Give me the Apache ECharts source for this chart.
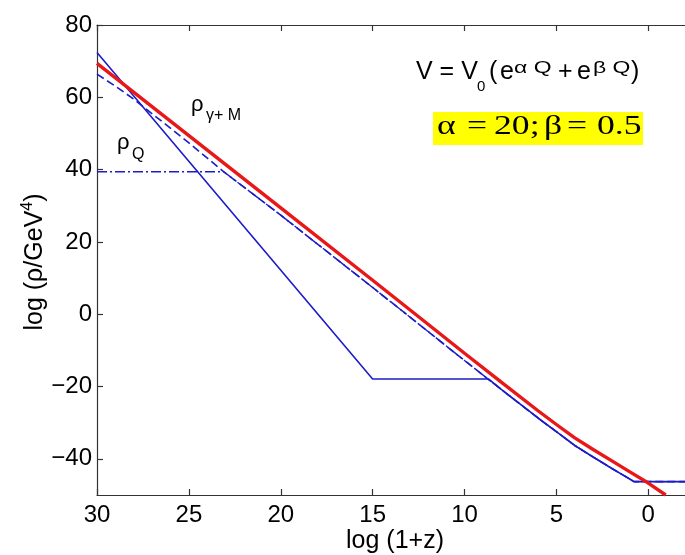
<!DOCTYPE html>
<html>
<head>
<meta charset="utf-8">
<script src="https://cdn.jsdelivr.net/npm/echarts@6/dist/echarts.min.js"></script>
<style>
  html, body { margin: 0; padding: 0; background: #ffffff; }
  #chart { width: 685px; height: 555px; background: #ffffff; }
</style>
</head>
<body>
<div id="chart"></div>
<script>
// x: log(1+z), y: log(rho / GeV^4)
const xTicks = [0, 5, 10, 15, 20, 25, 30];
const yTicks = [-40, -20, 0, 20, 40, 60, 80];

// radiation + matter density
const radMatX = [30, 25, 20, 15, 12, 10, 8, 6, 5, 4, 3, 2, 1, 0, -0.95];
const radMatY = [69.4, 49.4, 29.4, 9.4, -2.7, -10.8, -18.8, -26.7, -30.5, -34.2, -37.4, -40.5, -43.6, -46.7, -50];

// scalar field on the attractor (tracking) solution
const trackX = [28, 25, 23.1, 20, 15, 12, 10, 8.7, 8, 6, 5, 4, 3, 2, 1, 0.78, -2];
const trackY = [59.5, 47.4, 39.4, 27.4, 7.4, -4.7, -12.8, -18.0, -20.8, -28.7, -32.5, -36.3, -39.5, -42.6, -45.6, -46.3, -46.3];

// kinetic-dominated start, freezes, then joins the attractor
const kinX = [30, 15, 8.7];
const kinY = [72.4, -17.9, -17.9];

// start just below the attractor
const nearX = [30, 29];
const nearY = [66.4, 63.1];

// start frozen at a low value
const frozenX = [30];
const frozenY = [39.4];

const pairs = (xs, ys) => xs.map((x, i) => [x, ys[i]]);
const track = pairs(trackX, trackY);
const trackBelow = (x0) => track.filter(p => p[0] < x0);

const kinData = pairs(kinX, kinY).concat(trackBelow(kinX[kinX.length - 1]));
const nearData = pairs(nearX, nearY).concat(track);
const frozenData = pairs(frozenX, frozenY).concat(track.filter(p => p[0] <= 23.1));
const radMatData = pairs(radMatX, radMatY);

const RED = '#e81818';
const BLUE = '#1c1cc8';
const SANS = '"Liberation Sans", Arial, Helvetica, sans-serif';
const SERIF = '"Liberation Serif", "Times New Roman", serif';
const INK = '#000';

const chart = echarts.init(document.getElementById('chart'), null, { renderer: 'canvas' });

const axisLineStyle = { color: '#333', width: 1.2 };
const minus = v => String(v).replace('-', '\u2212');

function txt(text, x, y, size, opts) {
  return Object.assign({
    type: 'text', x: x, y: y, z: 10,
    style: Object.assign({
      text: text, fill: INK, font: size + 'px ' + SANS,
      align: 'left', verticalAlign: 'middle'
    }, (opts && opts.style) || {})
  }, (opts && opts.el) || {});
}
function serif(text, x) {
  return txt(text, x, 127, 27, { style: { font: '27px ' + SERIF }, el: { scaleX: 1.32 } });
}
function sup(text, x) {
  return txt(text, x, 68, 17, { el: { scaleX: 1.35 } });
}

const option = {
  animation: false,
  backgroundColor: '#ffffff',
  grid: { left: 97, top: 25, width: 596.5, height: 470, containLabel: false },
  xAxis: [
    {
      type: 'value', inverse: true, min: -2, max: 30, position: 'bottom',
      axisLine: { show: true, onZero: false, lineStyle: axisLineStyle },
      axisTick: { show: true, inside: true, length: 6, lineStyle: axisLineStyle, customValues: xTicks },
      axisLabel: { show: true, customValues: xTicks, margin: 8, fontSize: 24, fontFamily: SANS, color: INK },
      splitLine: { show: false }
    },
    {
      type: 'value', inverse: true, min: -2, max: 30, position: 'top',
      axisLine: { show: true, onZero: false, lineStyle: axisLineStyle },
      axisTick: { show: true, inside: true, length: 6, lineStyle: axisLineStyle, customValues: xTicks },
      axisLabel: { show: false },
      splitLine: { show: false }
    }
  ],
  yAxis: {
    type: 'value', min: -50, max: 80, position: 'left',
    axisLine: { show: true, onZero: false, lineStyle: axisLineStyle },
    axisTick: { show: true, inside: true, length: 6, lineStyle: axisLineStyle, customValues: yTicks },
    axisLabel: { show: true, customValues: yTicks, margin: 5, fontSize: 24, fontFamily: SANS, color: INK,
      formatter: minus },
    splitLine: { show: false }
  },
  series: [
    { type: 'line', data: frozenData, showSymbol: false, symbol: 'none',
      lineStyle: { color: BLUE, width: 1.4, type: [10, 3, 2, 3] }, z: 2 },
    { type: 'line', data: nearData, showSymbol: false, symbol: 'none',
      lineStyle: { color: BLUE, width: 1.6, type: [8, 4] }, z: 2 },
    { type: 'line', data: kinData, showSymbol: false, symbol: 'none',
      lineStyle: { color: BLUE, width: 1.6 }, z: 3 },
    { type: 'line', data: radMatData, showSymbol: false, symbol: 'none',
      lineStyle: { color: RED, width: 3.4 }, z: 4 }
  ],
  graphic: [
    // axis titles
    { type: 'text', x: 35, y: 262, rotation: Math.PI / 2, z: 10,
      style: { text: '{a|log (ρ/GeV}{s|4}{a|)}', align: 'center', verticalAlign: 'middle',
        rich: { a: { fontSize: 25, lineHeight: 30, fontFamily: SANS, fill: INK },
                s: { fontSize: 16, lineHeight: 16, fontFamily: SANS, fill: INK, verticalAlign: 'top' } } } },
    txt('log (1+z)', 395, 541, 25, { style: { align: 'center' } }),

    // curve labels
    txt('ρ', 117, 143, 22),
    txt('Q', 132, 155, 16),
    txt('ρ', 191, 105, 22),
    txt('γ+ M', 206, 116, 16),

    // potential
    txt('V = V', 416, 72, 25),
    txt('0', 477, 87, 15),
    txt('(', 489, 72, 25),
    txt('e', 500, 72, 25),
    sup('α Q', 514),
    txt('+', 558, 72, 25),
    txt('e', 577, 72, 25),
    sup('β Q', 593),
    txt(')', 631, 72, 25),

    // parameter box
    { type: 'rect', shape: { x: 433, y: 112, width: 210, height: 33 }, z: 9, style: { fill: '#ffff00' } },
    serif('α', 437),
    serif('=', 467),
    serif('20;', 494),
    serif('β', 544),
    serif('=', 567),
    serif('0.5', 597)
  ]
};

chart.setOption(option);
</script>
</body>
</html>
